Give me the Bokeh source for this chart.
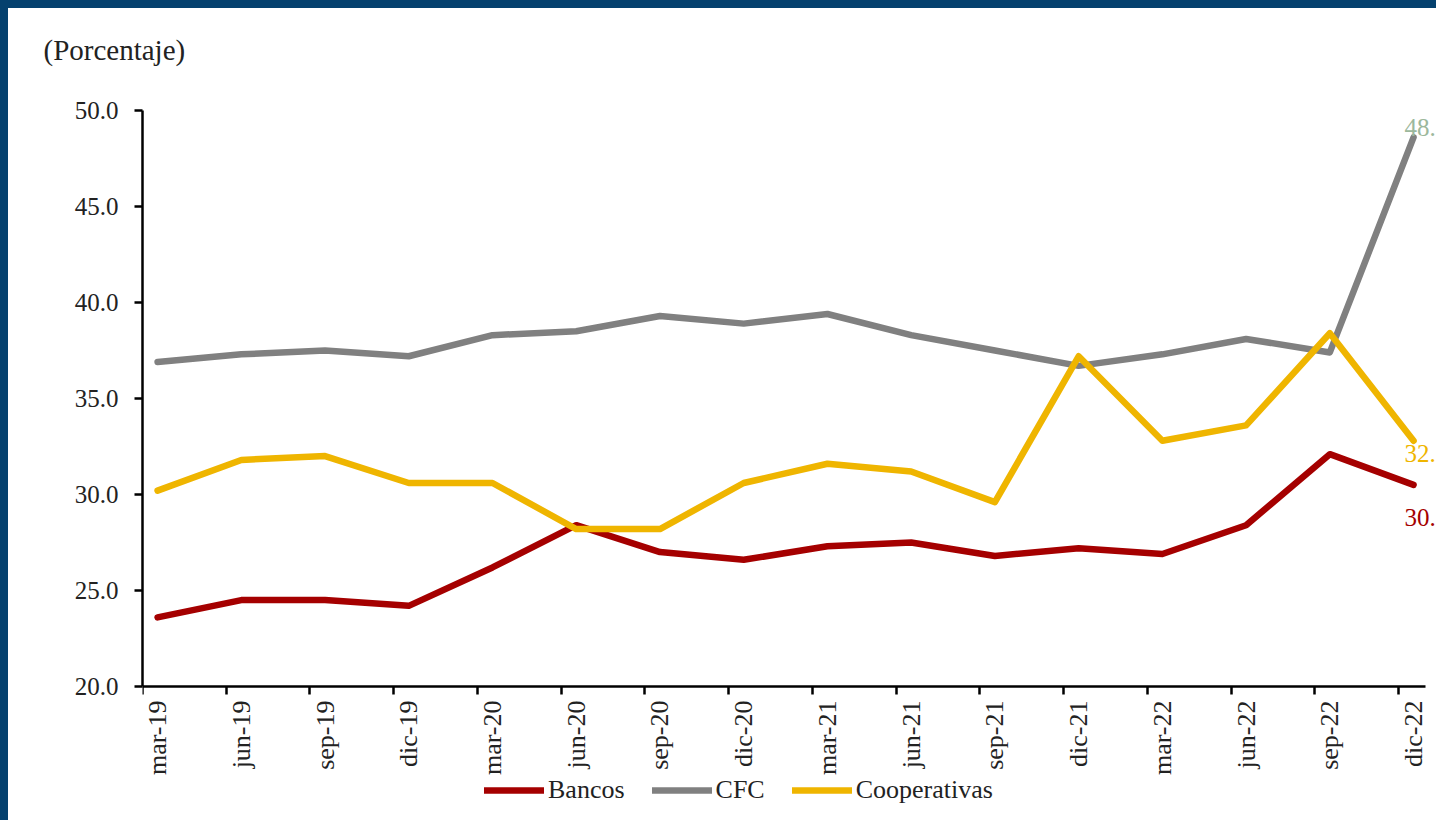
from math import pi
from bokeh.plotting import figure
from bokeh.models import (LinearAxis, FixedTicker, NumeralTickFormatter, Legend,
                          LegendItem, Label, Range1d)
from bokeh.embed import file_html
from bokeh.resources import INLINE

categories = ["mar-19", "jun-19", "sep-19", "dic-19", "mar-20", "jun-20", "sep-20", "dic-20",
              "mar-21", "jun-21", "sep-21", "dic-21", "mar-22", "jun-22", "sep-22", "dic-22"]
bancos = [23.6, 24.5, 24.5, 24.2, 26.2, 28.4, 27.0, 26.6, 27.3, 27.5, 26.8, 27.2, 26.9, 28.4, 32.1, 30.5]
cfc = [36.9, 37.3, 37.5, 37.2, 38.3, 38.5, 39.3, 38.9, 39.4, 38.3, 37.5, 36.7, 37.3, 38.1, 37.4, 48.6]
cooperativas = [30.2, 31.8, 32.0, 30.6, 30.6, 28.2, 28.2, 30.6, 31.6, 31.2, 29.6, 37.2, 32.8, 33.6, 38.4, 32.8]
y_ticks = [20, 25, 30, 35, 40, 45, 50]

FONT = "Liberation Serif"
RED = "#A50000"
GRAY = "#808080"
GOLD = "#EFB500"
FRAME_BLUE = "#05416E"

x = list(range(len(categories)))
shift = 0.18  # tick marks sit slightly left of the category points
y_min, y_max = 20, 50
y_below = 6.98   # room under the x axis for labels and legend (data units)
y_above = 1.667  # room above the top tick for the title (data units)
x_lo = -shift
x_axis_hi = len(categories) - 1 + 0.32 - shift
x_view_hi = len(categories) - 1 + 0.454 - shift

p = figure(width=1436, height=820, output_backend="svg", toolbar_location=None,
           x_range=Range1d(x_lo, x_view_hi),
           y_range=Range1d(y_min - y_below, y_max + y_above),
           min_border_left=134, min_border_right=8, min_border_top=70,
           min_border_bottom=8, x_axis_type=None, y_axis_type=None)
p.outline_line_color = None
p.xgrid.visible = False
p.ygrid.visible = False
p.background_fill_color = "white"
p.border_fill_color = "white"
p.styles = {"border-top": f"8px solid {FRAME_BLUE}", "border-left": f"8px solid {FRAME_BLUE}"}

p.title.text = "(Porcentaje)"
p.title.text_font = FONT
p.title.text_font_size = "29px"
p.title.text_font_style = "normal"
p.title.text_color = "#222222"
p.title.offset = -99
p.title.standoff = 26

# y axis
yax = LinearAxis(ticker=FixedTicker(ticks=y_ticks), formatter=NumeralTickFormatter(format="0.0"),
                 bounds=(y_min, y_max))
yax.axis_line_width = 2.5
yax.axis_line_color = "black"
yax.major_tick_line_width = 2.5
yax.major_tick_out = 8
yax.major_tick_in = 0
yax.minor_tick_line_color = None
yax.major_label_text_font = FONT
yax.major_label_text_font_size = "25px"
yax.major_label_text_color = "#222222"
yax.major_label_standoff = 16
p.add_layout(yax, "left")

# x axis: labels at the category points, tick marks (minor) between them
xax = LinearAxis(ticker=FixedTicker(ticks=x, minor_ticks=[i - shift for i in x]),
                 major_label_overrides={i: c for i, c in zip(x, categories)},
                 fixed_location=y_min, bounds=(x_lo, x_axis_hi))
xax.axis_line_width = 2.5
xax.axis_line_color = "black"
xax.major_tick_line_color = None
xax.major_tick_out = 8
xax.major_tick_in = 0
xax.minor_tick_line_color = "black"
xax.minor_tick_line_width = 2.5
xax.minor_tick_out = 8
xax.minor_tick_in = 0
xax.major_label_orientation = pi / 2
xax.major_label_text_font = FONT
xax.major_label_text_font_size = "26px"
xax.major_label_text_color = "#222222"
xax.major_label_standoff = 6
p.add_layout(xax, "below")

r_b = p.line(x, bancos, line_color=RED, line_width=6.5, line_cap="round", line_join="round")
r_c = p.line(x, cfc, line_color=GRAY, line_width=6.5, line_cap="round", line_join="round")
r_k = p.line(x, cooperativas, line_color=GOLD, line_width=6.5, line_cap="round", line_join="round")

for series, color, dy in [(cfc, "#9CB89C", 10), (cooperativas, GOLD, -13), (bancos, RED, -33)]:
    p.add_layout(Label(x=x[-1], y=series[-1], text=f"{series[-1]:.1f}", x_offset=-9, y_offset=dy,
                       text_font=FONT, text_font_size="25px", text_color=color,
                       text_align="left", text_baseline="middle"))

legend = Legend(items=[LegendItem(label="Bancos", renderers=[r_b]),
                       LegendItem(label="CFC", renderers=[r_c]),
                       LegendItem(label="Cooperativas", renderers=[r_k])],
                orientation="horizontal", location=(342, 15))
legend.label_text_font = FONT
legend.label_text_font_size = "26px"
legend.label_text_color = "#222222"
legend.glyph_width = 60
legend.glyph_height = 26
legend.label_standoff = 4
legend.spacing = 27
legend.padding = 0
legend.margin = 0
legend.border_line_color = None
legend.background_fill_alpha = 0
p.add_layout(legend, "center")

open("out.html", "w").write(file_html(p, INLINE))
